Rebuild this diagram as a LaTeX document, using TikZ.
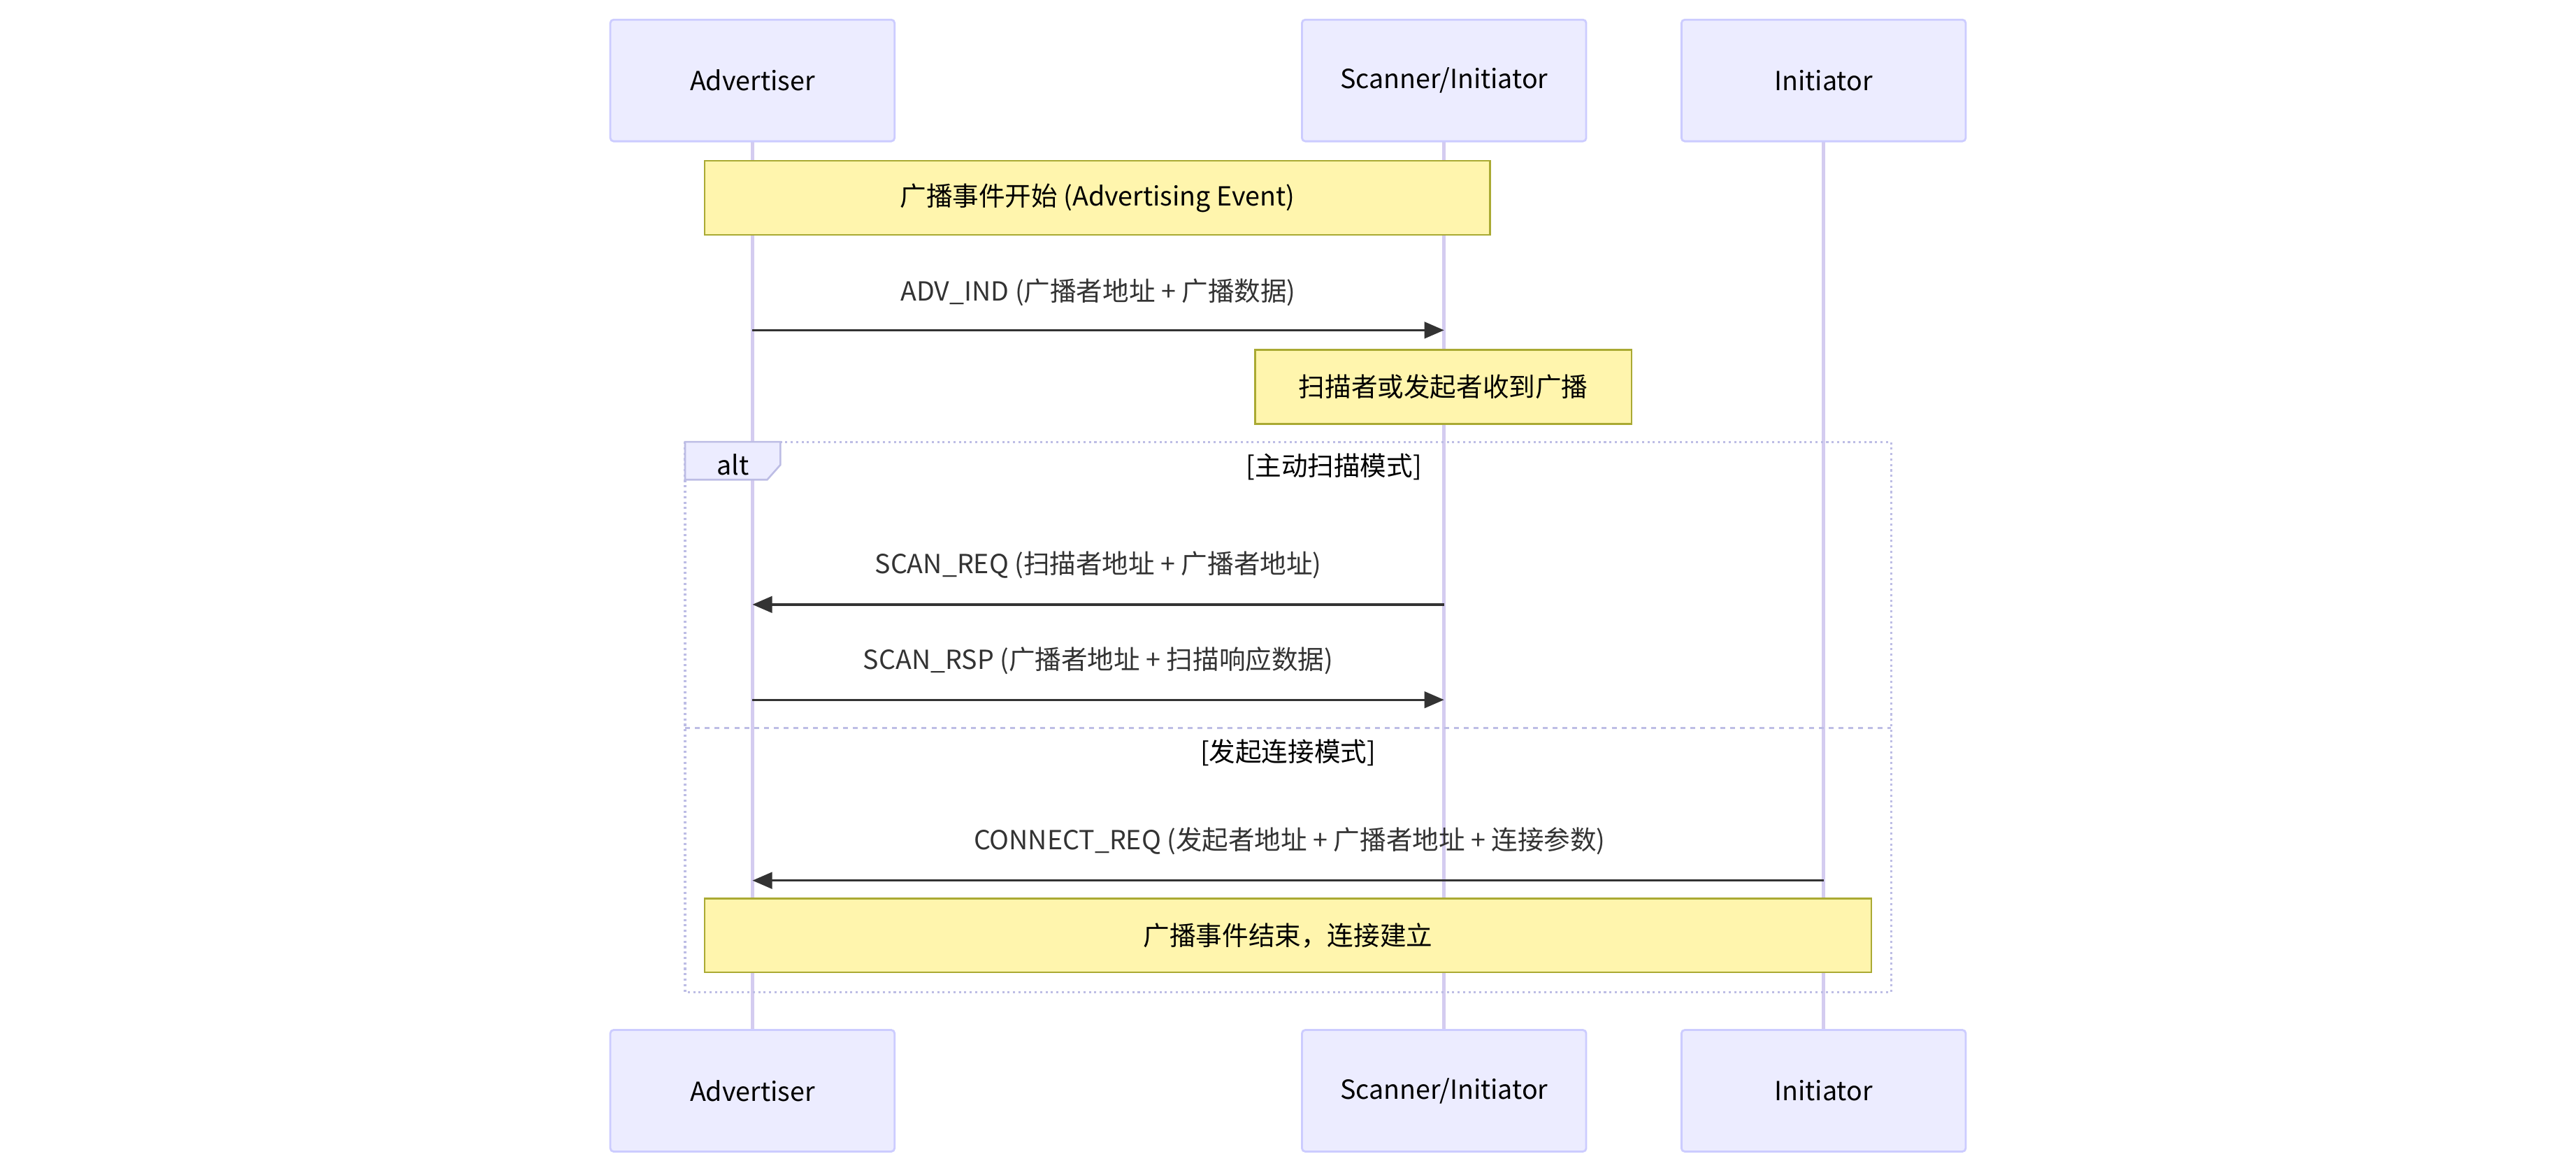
\documentclass[tikz,border=0pt]{standalone}
\usepackage{fontspec}
\setmainfont{Noto Sans CJK SC}
\usetikzlibrary{arrows.meta}
\definecolor{actfill}{HTML}{ECECFF}
\definecolor{actline}{HTML}{CCCCFF}
\definecolor{life}{HTML}{D4CCF0}
\definecolor{notefill}{HTML}{FFF5AD}
\definecolor{noteline}{HTML}{AAAA33}
\definecolor{txt}{HTML}{333333}
\tikzset{
 actor/.style={draw=actline,fill=actfill,line width=1.2pt,rounded corners=2pt,minimum width=173pt,minimum height=74pt,font=\fontsize{16}{18}\selectfont,inner sep=0pt},
 note/.style={draw=noteline,fill=notefill,line width=1pt,inner sep=0pt,font=\fontsize{16}{18}\selectfont},
 msg/.style={line width=1.4pt,draw=txt,-{Triangle[length=12pt,width=10pt]}},
 mlab/.style={font=\fontsize{16}{18}\selectfont,text=txt,inner sep=0pt},
 life/.style={draw=life,line width=2pt},
}
\begin{document}
\begin{tikzpicture}[x=1pt,y=-1pt]
\useasboundingbox (0,0) rectangle (1568,715);
\fill[white] (0,0) rectangle (1568,715);
% lifelines
\coordinate (a1) at (458,86); \coordinate (a2) at (458,627);
\coordinate (s1) at (879,86); \coordinate (s2) at (879,627);
\coordinate (i1) at (1110,86); \coordinate (i2) at (1110,627);
\draw[life] (a1)--(a2); \draw[life] (s1)--(s2); \draw[life] (i1)--(i2);
% actors
\node[actor] (at) at (458,49) {Advertiser};
\node[actor] (st) at (879,49) {Scanner/Initiator};
\node[actor] (it) at (1110,49) {Initiator};
\node[actor] (ab) at (458,664) {Advertiser};
\node[actor] (sb) at (879,664) {Scanner/Initiator};
\node[actor] (ib) at (1110,664) {Initiator};
% note 1
\node[note,minimum width=478pt,minimum height=45pt] (n1) at (668,120.5) {广播事件开始 (Advertising Event)};
% ADV_IND
\coordinate (m1a) at (458,201); \coordinate (m1b) at (879,201);
\draw[msg] (m1a)--(m1b);
\node[mlab] (l1) at (668.5,178) {ADV\_IND (广播者地址 + 广播数据)};
\node[note,minimum width=229pt,minimum height=45pt] (n2) at (878.5,235.5) {扫描者或发起者收到广播};
% alt
\draw[actline!80!gray,line width=1.3pt,dotted] (417,269) rectangle (1151,604);
\draw[actline!80!gray,line width=1.1pt,fill=actfill] (417,269)--(475,269)--(475,283)--(467,292)--(417,292)--cycle;
\node[mlab,text=black] (alt) at (446,283) {alt};
\node[mlab,text=black] (g1) at (812,284) {[主动扫描模式]};
\coordinate (m2a) at (879,368); \coordinate (m2b) at (458,368);
\draw[msg] (m2a)--(m2b);
\node[mlab] (l2) at (668.5,344) {SCAN\_REQ (扫描者地址 + 广播者地址)};
\coordinate (m3a) at (458,426); \coordinate (m3b) at (879,426);
\draw[msg] (m3a)--(m3b);
\node[mlab] (l3) at (668.5,402) {SCAN\_RSP (广播者地址 + 扫描响应数据)};
\coordinate (d1) at (417,443); \coordinate (d2) at (1151,443);
\draw[actline!80!gray,line width=1.3pt,dashed] (d1)--(d2);
\node[mlab,text=black] (g2) at (784,458) {[发起连接模式]};
\coordinate (m4a) at (1110,536); \coordinate (m4b) at (458,536);
\draw[msg] (m4a)--(m4b);
\node[mlab] (l4) at (785,512) {CONNECT\_REQ (发起者地址 + 广播者地址 + 连接参数)};
\node[note,minimum width=710pt,minimum height=45pt] (n3) at (784,569.5) {广播事件结束，连接建立};
\end{tikzpicture}
\end{document}
